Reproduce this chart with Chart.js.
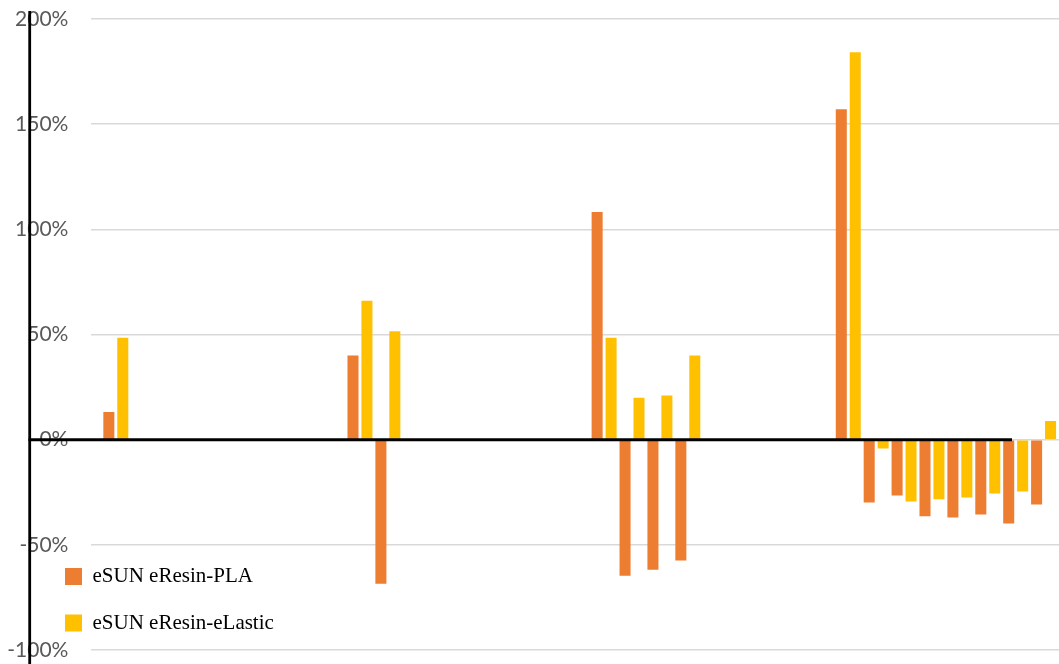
<!DOCTYPE html>
<html lang="en">

<head>
    <meta charset="UTF-8">
    <meta name="viewport" content="width=device-width, initial-scale=1.0">
    <title>eSUN eResin change</title>
    <script src="https://cdn.jsdelivr.net/npm/chart.js@4.4.1/dist/chart.umd.min.js"></script>
    <style>
        html, body { margin: 0; padding: 0; background: #fff; overflow: hidden; }
        #wrap { position: relative; width: 1070px; height: 664px; }
    </style>
</head>

<body>

    <div id="wrap"><canvas id="myChart"></canvas></div>
    <script>

        // four groups on the x axis (labels are not visible in the picture)
        const groupLabels = ['1', '2', '3', '4'];
        const seriesNames = ['eSUN eResin-PLA', 'eSUN eResin-eLastic'];
        const seriesColors = ['#ED7D31', '#FFC000'];

        // values in %, one list per group
        const plaValues = [
            [13.1],
            [40.0, -68.5],
            [108.3, -64.7, -61.9, -57.5],
            [157.1, -29.9, -26.5, -36.4, -37.0, -35.6, -39.9, -30.8]
        ];
        const elasticValues = [
            [48.5],
            [66.1, 51.6],
            [48.4, 19.9, 21.0, 40.0],
            [184.2, -4.2, -29.4, -28.3, -27.5, -25.6, -24.7, 8.9]
        ];
        const yTicks = [-100, -50, 0, 50, 100, 150, 200];

        // every group keeps 16 slots, PLA and eLastic take turns
        const allValues = [plaValues, elasticValues];
        const slotsPerSeries = 8;
        let datasets = [];
        for (let p = 0; p < slotsPerSeries; p++) {
            for (let s = 0; s < 2; s++) {
                datasets.push({
                    label: seriesNames[s],
                    data: groupLabels.map((g, i) => {
                        let v = allValues[s][i][p];
                        return v === undefined ? null : v;
                    }),
                    backgroundColor: seriesColors[s],
                    borderWidth: 0,
                    categoryPercentage: 16 / 17.5,
                    barPercentage: 0.79
                });
            }
        }

        // the black lines drawn over the plot
        const blackLines = {
            id: 'blackLines',
            afterLayout(chart) {
                // legend sits inside the plot at the bottom left
                let lg = chart.legend;
                let w = lg.width;
                lg.left = 39.5;
                lg.right = lg.left + w;
                lg.bottom = 659;
            },
            afterDatasetsDraw(chart) {
                let ctx = chart.ctx;
                let y0 = chart.scales.y.getPixelForValue(0);
                ctx.save();
                ctx.strokeStyle = '#000';
                ctx.lineWidth = 2.8;
                ctx.beginPath();
                ctx.moveTo(29.7, 11);
                ctx.lineTo(29.7, chart.height);
                ctx.stroke();
                ctx.lineWidth = 3;
                ctx.beginPath();
                ctx.moveTo(28.5, y0);
                ctx.lineTo(1012, y0);
                ctx.stroke();
                ctx.restore();
            }
        };

        let ctx = document.getElementById('myChart').getContext('2d');
        let myChart = new Chart(ctx, {
            type: 'bar',
            data: {
                labels: groupLabels,
                datasets: datasets
            },
            plugins: [blackLines],
            options: {
                responsive: true,
                maintainAspectRatio: false,
                animation: false,
                layout: {
                    padding: { left: 0, top: 19, right: 2, bottom: 14 }
                },
                plugins: {
                    tooltip: { enabled: false },
                    legend: {
                        position: 'chartArea',
                        fullSize: false,
                        align: 'end',
                        labels: {
                            filter: (item) => item.datasetIndex < 2,
                            boxWidth: 17,
                            boxHeight: 17,
                            padding: 25.5,
                            color: '#000',
                            font: { family: 'Liberation Serif', size: 21 }
                        }
                    }
                },
                scales: {
                    x: {
                        display: false
                    },
                    y: {
                        min: -100,
                        max: 200,
                        afterFit: (scale) => {
                            scale.width = 91.4;
                            scale.paddingTop = 0;
                            scale.paddingBottom = 0;
                        },
                        afterBuildTicks: (scale) => {
                            scale.ticks = yTicks.map(v => ({ value: v }));
                        },
                        border: { display: false },
                        grid: {
                            color: '#d9d9d9',
                            lineWidth: 1.5,
                            drawTicks: false
                        },
                        ticks: {
                            padding: 23,
                            color: '#595959',
                            font: { family: 'Lato', size: 21 },
                            callback: function (value) {
                                return value + '%';
                            }
                        }
                    }
                }
            }
        });

    </script>

</body>

</html>
